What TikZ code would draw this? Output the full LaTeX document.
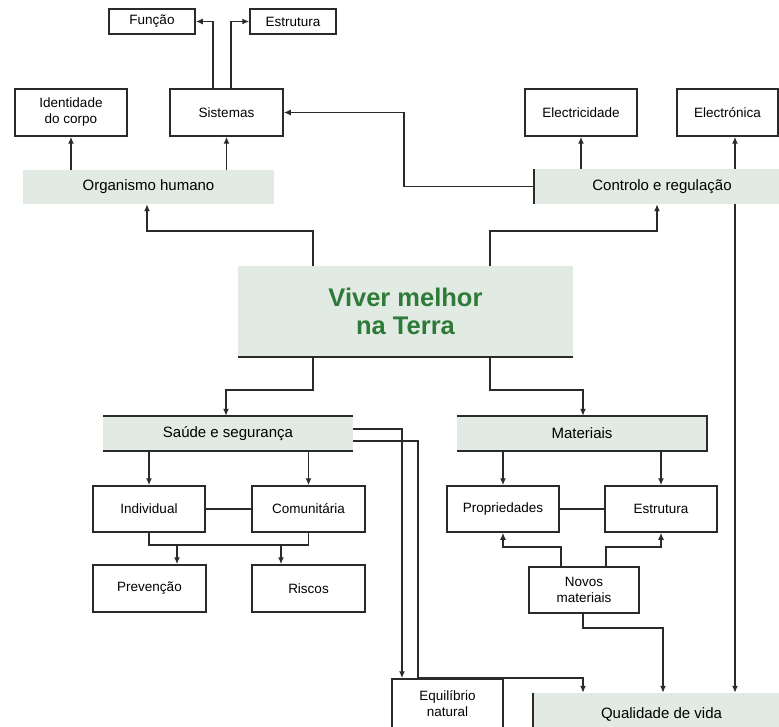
\documentclass[tikz,border=0pt]{standalone}
\usepackage{fontspec}
\setmainfont{Liberation Sans}
\usetikzlibrary{arrows.meta,calc}

\definecolor{bandfill}{HTML}{E2EAE4}
\definecolor{titlegreen}{HTML}{2E7A38}
\definecolor{ink}{HTML}{2A2A2A}

\tikzset{
  box/.style={draw=ink, line width=1.5pt, fill=white, inner sep=0pt, align=center,
              font=\fontsize{13.5}{16}\selectfont},
  band/.style={fill=bandfill, inner sep=0pt, align=center,
               font=\fontsize{15}{18}\selectfont},
  link/.style={draw=ink, line width=1.6pt},
  arr/.style={link, -{Latex[length=7pt,width=6pt]}},
  edge/.style={draw=ink, line width=1.7pt}
}

\begin{document}
\begin{tikzpicture}[x=1pt,y=-1pt]
\useasboundingbox (0,0) rectangle (779,727);

% --- upper left: body ---
\node[box, minimum width=86, minimum height=25] (funcao) at (152,21.5) {Função};
\node[box, minimum width=86, minimum height=25] (estrA) at (293,21.5) {Estrutura};
\node[box, minimum width=112, minimum height=47] (ident) at (71,112.5) {Identidade\\do corpo};
\node[box, minimum width=113, minimum height=47] (sist) at (226.5,112.5) {Sistemas};
\node[band, minimum width=251, minimum height=34] (organ) at (148.5,187) {Organismo humano};

% --- upper right: control ---
\node[box, minimum width=112, minimum height=47] (elec) at (581,112.5) {Electricidade};
\node[box, minimum width=101, minimum height=47] (eletr) at (727.5,112.5) {Electrónica};
\node[band, minimum width=256, minimum height=35] (ctrl) at (662,186.5) {Controlo e regulação};
\draw[edge] (ctrl.north west) -- (ctrl.south west);

% --- centre ---
\node[band, minimum width=335, minimum height=91, text=titlegreen,
      font=\fontsize{25.5}{28}\selectfont\bfseries] (viver) at (405.5,311.5) {Viver melhor\\na Terra};
\draw[edge] (viver.south west) -- (viver.south east);

% --- lower left: health ---
\node[band, minimum width=250, minimum height=35] (saude) at (228,433.5) {Saúde e segurança};
\draw[edge] (saude.north west) -- (saude.north east);
\draw[edge] (saude.south west) -- (saude.south east);
\node[box, minimum width=112, minimum height=46] (indiv) at (149,509) {Individual};
\node[box, minimum width=113, minimum height=46] (comun) at (308.5,509) {Comunitária};
\node[box, minimum width=113, minimum height=47] (prev) at (149.5,588.5) {Prevenção};
\node[box, minimum width=113, minimum height=47] (riscos) at (308.5,588.5) {Riscos};

% --- lower right: materials ---
\node[band, minimum width=250, minimum height=35] (mat) at (582,433.5) {Materiais};
\draw[edge] (mat.north west) -- (mat.north east) -- (mat.south east) -- (mat.south west);
\node[box, minimum width=112, minimum height=46] (prop) at (503,509) {Propriedades};
\node[box, minimum width=112, minimum height=46] (estrB) at (661,509) {Estrutura};
\node[box, minimum width=110, minimum height=46] (novos) at (584,590) {Novos\\materiais};

% --- bottom ---
\node[box, minimum width=111, minimum height=50] (equil) at (447.5,704) {Equilíbrio\\natural};
\node[band, minimum width=257, minimum height=42] (qual) at (661.5,714) {Qualidade de vida};
\draw[edge] (qual.north west) -- (qual.south west);

% --- connectors: body ---
\draw[arr] (ident.south |- organ.north) -- (ident.south);
\draw[arr] (sist.south |- organ.north) -- (sist.south);
\draw[arr] ([xshift=-13.5]sist.north) |- (funcao.east);
\draw[arr] ([xshift=4.5]sist.north) |- (estrA.west);
\draw[arr] (ctrl.west) -- ++(-130,0) |- (sist.east);

% --- connectors: control ---
\draw[arr] (elec.south |- ctrl.north) -- (elec.south);
\draw[arr] ([xshift=7.5]eletr.south |- ctrl.north) -- ([xshift=7.5]eletr.south);
\draw[arr] ([xshift=7.5]eletr.south |- ctrl.south) -- ([xshift=7.5]eletr.south |- qual.north);

% --- connectors: centre ---
\draw[arr] ([xshift=-92.5]viver.north) -- ++(0,-35) -| ([xshift=-1.5]organ.south);
\draw[arr] ([xshift=84.5]viver.north) -- ++(0,-35) -| ([xshift=-5]ctrl.south);
\draw[arr] ([xshift=-92.5]viver.south) -- ++(0,33) -| ([xshift=-2]saude.north);
\draw[arr] ([xshift=84.5]viver.south) -- ++(0,33) -| ([xshift=1]mat.north);

% --- connectors: health ---
\draw[arr] (indiv.north |- saude.south) -- (indiv.north);
\draw[arr] (comun.north |- saude.south) -- (comun.north);
\draw[link] (indiv.east) -- (comun.west);
\draw[link] (indiv.south) -- ++(0,12) coordinate (jn) -| (comun.south);
\draw[arr] ([xshift=27.5]prev.north |- jn) -- ([xshift=27.5]prev.north);
\draw[arr] ([xshift=-27.5]riscos.north |- jn) -- ([xshift=-27.5]riscos.north);
\draw[arr] ([yshift=-7.5]saude.east) -- ++(65,0) -- ++(0,237) -| ([xshift=-78.5]qual.north);
\draw[arr] ([yshift=4.5]saude.east) -| ([xshift=-45.5]equil.north);

% --- connectors: materials ---
\draw[arr] (prop.north |- mat.south) -- (prop.north);
\draw[arr] (estrB.north |- mat.south) -- (estrB.north);
\draw[link] (prop.east) -- (estrB.west);
\draw[arr] ([xshift=-23]novos.north) -- ++(0,-19) -| (prop.south);
\draw[arr] ([xshift=22]novos.north) -- ++(0,-19) -| (estrB.south);
\draw[arr] ([xshift=-1]novos.south) -- ++(0,14) -| ([xshift=1.5]qual.north);
\end{tikzpicture}
\end{document}
